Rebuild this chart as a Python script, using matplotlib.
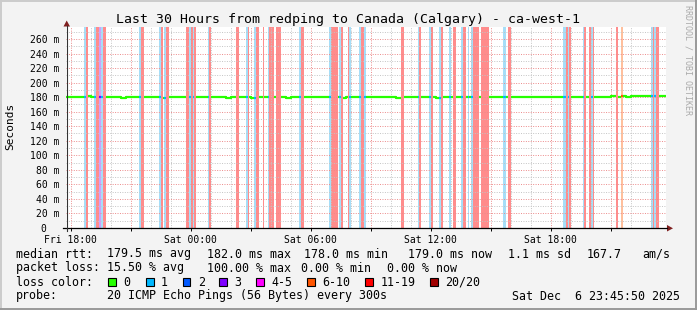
import numpy as np
import matplotlib
matplotlib.use("Agg")
import matplotlib.pyplot as plt
from matplotlib.patches import Rectangle, Polygon

W, H = 697, 310
MONO = "DejaVu Sans Mono"

# ---------------- data ----------------
# 30 hours, one slot every 5 minutes, start Fri 17:45:50
STEP_H = 5 / 60
N_STEPS = 360
FIRST_TICK_H = 14 / 60 + 10 / 3600          # Fri 18:00
tick_names = ["Fri 18:00", "Sat 00:00", "Sat 06:00", "Sat 12:00", "Sat 18:00"]

# slots with lost pings (slot index)
loss_1_slots = [11, 17, 21, 44, 56, 59, 74, 76, 85, 108, 113, 121, 140, 158, 164,
                170, 176, 179, 211, 218, 224, 230, 237, 241, 243, 262, 263, 298,
                299, 301, 310, 315, 351, 353]
loss_3_slots = [20]
loss_7_slots = [333]
loss_20_slots = [12, 18, 19, 22, 23, 45, 46, 57, 60, 61, 72, 73, 75, 77, 86, 102,
                 103, 109, 114, 115, 118, 122, 123, 124, 126, 127, 128, 141, 142,
                 159, 160, 161, 162, 165, 169, 177, 178, 201, 202, 212, 219, 225,
                 232, 233, 238, 239, 244, 245, 246, 247, 249, 250, 251, 252, 253,
                 265, 266, 300, 302, 311, 314, 316, 330, 352, 354, 355]

# median rtt (ms), one value per 15 minutes
median_15min = [
    180.3, 180.1, 179.6, 180.2, 181.2, 180.4, 179.8, 180.5, 179.9, 180.6, 180.0, 179.4,
    179.8, 180.3, 179.6, 180.1, 180.4, 179.7, 180.2, 179.5, 180.0, 180.6, 179.9, 180.3,
    180.1, 179.6, 180.4, 179.8, 180.0, 180.5, 179.7, 180.2, 179.4, 179.9, 180.3, 179.6,
    180.0, 179.5, 179.9, 180.4, 179.7, 180.1, 179.6, 180.0, 179.3, 179.8, 180.2, 179.7,
    179.9, 180.3, 179.6, 180.0, 180.5, 179.8, 180.1, 179.5, 180.2, 179.9, 180.6, 180.0,
    179.6, 180.2, 179.8, 180.4, 179.7, 180.0, 179.5, 180.3, 179.9, 180.1, 179.6, 180.2,
    179.8, 180.3, 179.5, 180.0, 180.6, 179.9, 180.2, 179.7, 180.4, 180.1, 179.8, 180.3,
    180.0, 179.7, 180.2, 180.5, 179.9, 180.3, 179.6, 180.1, 180.4, 179.8, 180.2, 180.0,
    180.4, 180.0, 179.7, 180.3, 179.9, 180.5, 180.1, 179.6, 180.2, 180.7, 180.0, 179.8,
    180.3, 180.9, 180.5, 181.1, 180.8, 181.4, 181.0, 181.7, 181.3, 181.8, 181.5, 181.2,
]

loss_labels = ["0", "1", "2", "3", "4-5", "6-10", "11-19", "20/20"]
loss_colors = ["#26ff00", "#00b8ff", "#0059ff", "#7e00ff", "#ff00ff", "#ff5500", "#ff0000", "#a10000"]
loss_bg = {1: "#a6def8", 3: "#cfa0fb", 7: "#ffbf9c", 20: "#ff8c8c"}

legend_rows = [
    [("median rtt:", 16), ("179.5 ms avg", 107), ("182.0 ms max", 207), ("178.0 ms min", 304),
     ("179.0 ms now", 408), ("1.1 ms sd", 508), ("167.7", 587), ("am/s", 642)],
    [("packet loss:", 16), ("15.50 % avg", 107), ("100.00 % max", 207), ("0.00 % min", 301),
     ("0.00 % now", 387)],
    [("loss color:", 16)],
    [("probe:", 16), ("20 ICMP Echo Pings (56 Bytes) every 300s", 107)],
]
stamp = "Sat Dec  6 23:45:50 2025"
title = "Last 30 Hours from redping to Canada (Calgary) - ca-west-1"

# ---------------- build series ----------------
loss = np.zeros(N_STEPS, dtype=int)
for slots, n in ((loss_1_slots, 1), (loss_3_slots, 3), (loss_7_slots, 7), (loss_20_slots, 20)):
    loss[slots] = n

median = np.repeat(median_15min, 3).astype(float)
median[loss >= 20] = np.nan

def loss_class(n):
    bounds = [0, 1, 2, 3, 5, 10, 19, 20]
    for k, b in enumerate(bounds):
        if n <= b:
            return k
    return 7

cls = np.array([loss_class(n) for n in loss])
t_edges = np.arange(N_STEPS + 1) * STEP_H

# ---------------- figure ----------------
fig = plt.figure(figsize=(W / 100, H / 100), dpi=100)
fig.patch.set_facecolor("#f3f3f3")

ax = fig.add_axes([66 / W, 1 - 228 / H, 600 / W, 201 / H])
ax.set_facecolor("white")
ax.set_xlim(0, 30)
ax.set_ylim(0, 276.5)
for s in ax.spines.values():
    s.set_visible(False)

# loss background bars
for i, n in enumerate(loss):
    if n > 0:
        ax.axvspan(t_edges[i], t_edges[i + 1], color=loss_bg[n], lw=0, zorder=1)

# median line coloured by loss
for k, col in enumerate(loss_colors):
    y = np.where(cls == k, median, np.nan)
    if np.all(np.isnan(y)):
        continue
    ax.plot(t_edges, np.append(y, np.nan), drawstyle="steps-post", color=col,
            lw=1.6, zorder=3, solid_capstyle="butt")

# grid
major_x = FIRST_TICK_H + np.arange(0, 30, 3)
minor_x = FIRST_TICK_H + np.arange(0, 30, 1)
ax.set_xticks(major_x)
ax.set_xticklabels([tick_names[i // 2] if i % 2 == 0 else "" for i in range(len(major_x))],
                   fontfamily=MONO, fontsize=7)
ax.set_xticks(minor_x, minor=True)
ax.set_yticks(np.arange(0, 261, 20))
ax.set_yticklabels(["0  " if v == 0 else f"{v} m" for v in range(0, 261, 20)],
                   fontfamily=MONO, fontsize=7)
ax.set_yticks(np.arange(0, 276, 10), minor=True)
ax.set_axisbelow(False)
ax.grid(which="minor", color="#c4c4c4", lw=0.7, ls=(0, (1, 1.5)), zorder=2)
ax.grid(which="major", color="#ec8a8a", lw=0.7, ls=(0, (1, 1.5)), zorder=2)
ax.tick_params(axis="x", which="major", length=2, width=0.7, color="#000000", pad=3)
ax.tick_params(axis="y", which="major", length=0, pad=5)
ax.tick_params(which="minor", length=0)

# ---------------- overlay in pixel coordinates ----------------
ov = fig.add_axes([0, 0, 1, 1], zorder=5)
ov.set_xlim(0, W)
ov.set_ylim(H, 0)
ov.axis("off")
ov.patch.set_alpha(0)

# frame
ov.plot([0.5, W - 1], [0.5, 0.5], color="#cbcbcb", lw=1.4)
ov.plot([0.5, 0.5], [0.5, H - 1], color="#cbcbcb", lw=1.4)
ov.plot([0, W], [H - 1, H - 1], color="#999999", lw=1.4)
ov.plot([W - 1, W - 1], [0, H], color="#999999", lw=1.4)

# axes with arrows
ov.plot([63, 667], [228.3, 228.3], color="#000000", lw=0.9)
ov.plot([66.7, 66.7], [231, 26], color="#333333", lw=0.8)
ov.add_patch(Polygon([[667, 225], [667, 231.5], [673, 228.3]], closed=True, color="#7f1f1f", lw=0))
ov.add_patch(Polygon([[63.5, 26.5], [70, 26.5], [66.7, 20.5]], closed=True, color="#7f1f1f", lw=0))

ov.text(348, 23, title, family=MONO, fontsize=9.5, ha="center", va="baseline")
ov.text(10, 126, "Seconds", family=MONO, fontsize=8, rotation=90, ha="center", va="center")
ov.text(688, 5, "RRDTOOL / TOBI OETIKER", family=MONO, fontsize=6, rotation=270,
        ha="center", va="top", color="#aaaaaa")

for r, row in enumerate(legend_rows):
    yb = 257.5 + 14 * r
    for txt, x in row:
        ov.text(x, yb, txt, family=MONO, fontsize=8.4, ha="left", va="baseline")
ov.text(680, 257.5 + 14 * 3, stamp, family=MONO, fontsize=8.4, ha="right", va="baseline")

box_x = [108.3, 146, 182.7, 219.3, 256, 307.3, 365.3, 430]
for bx, lab, col in zip(box_x, loss_labels, loss_colors):
    ov.add_patch(Rectangle((bx, 278.2), 7.5, 7.5, facecolor=col, edgecolor="#000000", lw=0.8))
    ov.text(bx + 15, 257.5 + 28, lab, family=MONO, fontsize=8.4, ha="left", va="baseline")

fig.savefig("out.png", dpi=100, facecolor=fig.get_facecolor())
